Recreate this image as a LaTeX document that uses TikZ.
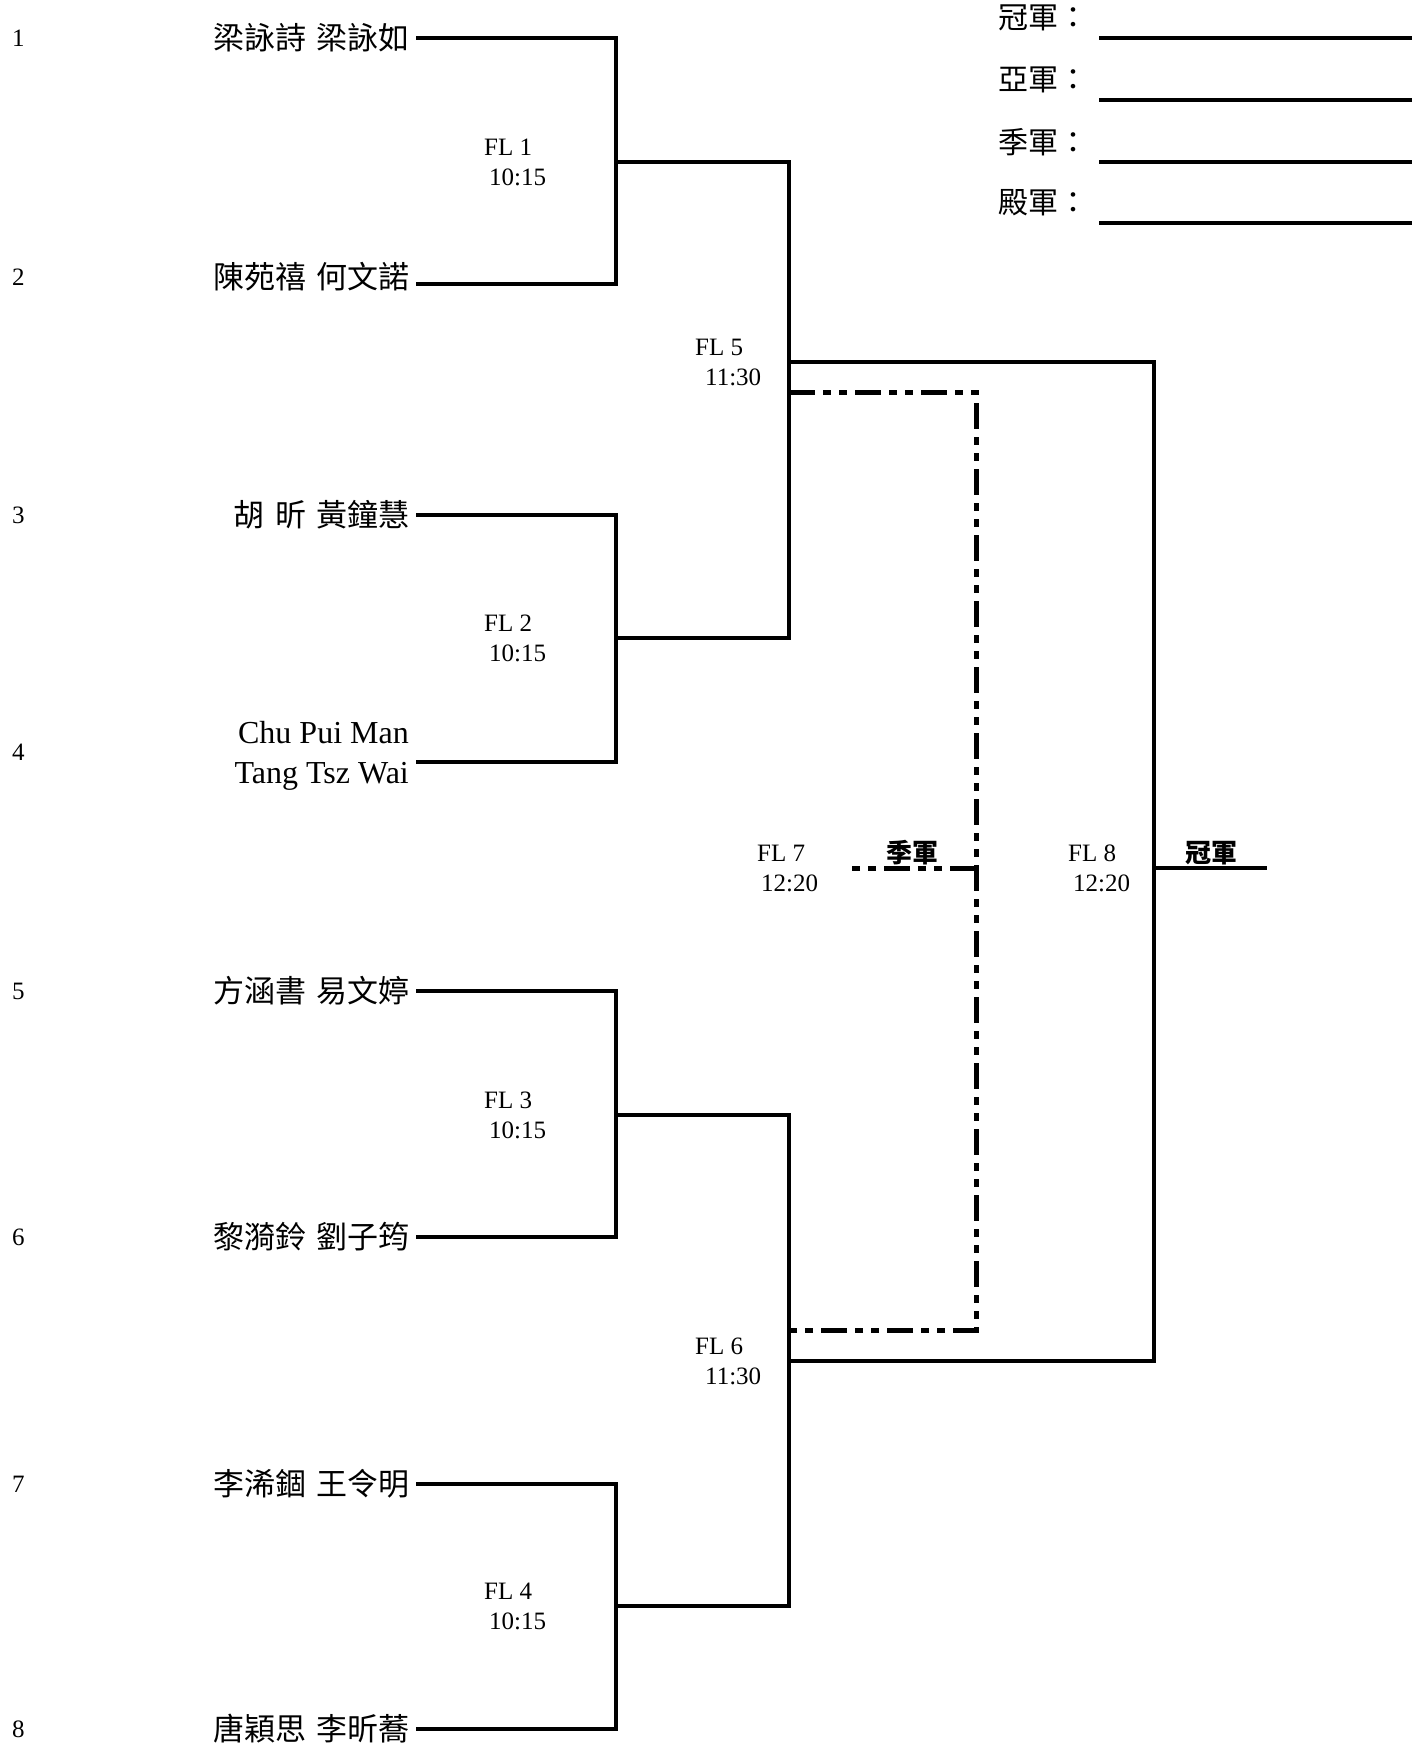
\documentclass[tikz,border=0pt]{standalone}
\usepackage{fontspec}
\setmainfont{Liberation Serif}
\newfontfamily\cjk[WordSpace=1.5]{Noto Sans CJK TC}
\begin{document}
\begin{tikzpicture}[x=1pt,y=-1pt,
  wire/.style={line width=3.2pt},
  dashd/.style={line width=5pt, dash pattern=on 26pt off 8pt on 8pt off 8pt on 8pt off 8pt},
  rulel/.style={line width=3.6pt},
  seed/.style={font=\fontsize{25}{30}\selectfont, anchor=west, inner sep=0pt},
  pname/.style={font=\cjk\fontsize{31}{36}\selectfont, anchor=east, inner sep=0pt},
  ename/.style={font=\fontsize{32}{40}\selectfont, anchor=east, inner sep=0pt, align=right},
  fl/.style={font=\fontsize{25}{30}\selectfont, anchor=west, inner sep=0pt, align=left},
  award/.style={font=\cjk\fontsize{30}{36}\selectfont, anchor=west, inner sep=0pt},
  plabel/.style={font=\cjk\bfseries\fontsize{26}{30}\selectfont, inner sep=0pt}]
\fill[white] (0,0) rectangle (1423,1753);
\useasboundingbox (0,0) rectangle (1423,1753);

% seed numbers
\node[seed] (s1) at (12,38) {1};
\node[seed] (s2) at (12,277) {2};
\node[seed] (s3) at (12,515) {3};
\node[seed] (s4) at (12,752) {4};
\node[seed] (s5) at (12,991) {5};
\node[seed] (s6) at (12,1237) {6};
\node[seed] (s7) at (12,1484) {7};
\node[seed] (s8) at (12,1729) {8};

% player names
\node[pname] (n1) at (410,38) {梁詠詩 梁詠如};
\node[pname] (n2) at (410,277) {陳苑禧 何文諾};
\node[pname] (n3) at (410,515) {胡 昕 黃鐘慧};
\node[ename] (n4) at (409,756) {Chu Pui Man\\Tang Tsz Wai};
\node[pname] (n5) at (410,991) {方涵書 易文婷};
\node[pname] (n6) at (410,1237) {黎漪鈴 劉子筠};
\node[pname] (n7) at (410,1484) {李浠錮 王令明};
\node[pname] (n8) at (410,1729) {唐穎思 李昕蕎};

% line start points
\coordinate (r1) at (416,38);
\coordinate (r2) at (416,284);
\coordinate (r3) at (416,515);
\coordinate (r4) at (416,762);
\coordinate (r5) at (416,991);
\coordinate (r6) at (416,1237);
\coordinate (r7) at (416,1484);
\coordinate (r8) at (416,1729);

% first round junctions
\coordinate (m1) at (616,162);
\coordinate (m2) at (616,638);
\coordinate (m3) at (616,1115);
\coordinate (m4) at (616,1606);
% semi finals
\coordinate (q5) at (789,362);
\coordinate (q6) at (789,1361);
\coordinate (t5) at (789,392);
\coordinate (t6) at (789,1330);
% finals
\coordinate (w8) at (1154,868);
\coordinate (e8) at (1267,868);
\coordinate (w7) at (976,868);
\coordinate (e7) at (846,868);

\draw[wire] (r1) -| (m1) |- (r2);
\draw[wire] (r3) -| (m2) |- (r4);
\draw[wire] (r5) -| (m3) |- (r6);
\draw[wire] (r7) -| (m4) |- (r8);
\draw[wire] (m1) -| (q5) |- (m2);
\draw[wire] (m3) -| (q6) |- (m4);
\draw[wire] (q5) -| (w8) |- (q6);
\draw[wire] (w8) -- (e8);
\draw[dashd] (t5) -| (w7) |- (t6);
\draw[dashd] (w7) -- (e7);

% match labels
\node[fl] (fl1) at (484,162) {FL 1\\\hspace*{5pt}10:15};
\node[fl] (fl2) at (484,638) {FL 2\\\hspace*{5pt}10:15};
\node[fl] (fl3) at (484,1115) {FL 3\\\hspace*{5pt}10:15};
\node[fl] (fl4) at (484,1606) {FL 4\\\hspace*{5pt}10:15};
\node[fl] (fl5) at (695,362) {FL 5\\\hspace*{10pt}11:30};
\node[fl] (fl6) at (695,1361) {FL 6\\\hspace*{10pt}11:30};
\node[fl] (fl7) at (757,868) {FL 7\\\hspace*{4pt}12:20};
\node[fl] (fl8) at (1068,868) {FL 8\\\hspace*{5pt}12:20};

\node[plabel] (third) at (912,853) {季軍};
\node[plabel] (champ) at (1211,853) {冠軍};

% result list
\node[award] (a1) at (998,18) {冠軍：};
\node[award] (a2) at (998,80) {亞軍：};
\node[award] (a3) at (998,142) {季軍：};
\node[award] (a4) at (998,203) {殿軍：};
\coordinate (l1a) at (1099,38); \coordinate (l1b) at (1412,38);
\coordinate (l2a) at (1099,100); \coordinate (l2b) at (1412,100);
\coordinate (l3a) at (1099,162); \coordinate (l3b) at (1412,162);
\coordinate (l4a) at (1099,223); \coordinate (l4b) at (1412,223);
\draw[rulel] (l1a) -- (l1b);
\draw[rulel] (l2a) -- (l2b);
\draw[rulel] (l3a) -- (l3b);
\draw[rulel] (l4a) -- (l4b);
\end{tikzpicture}
\end{document}
